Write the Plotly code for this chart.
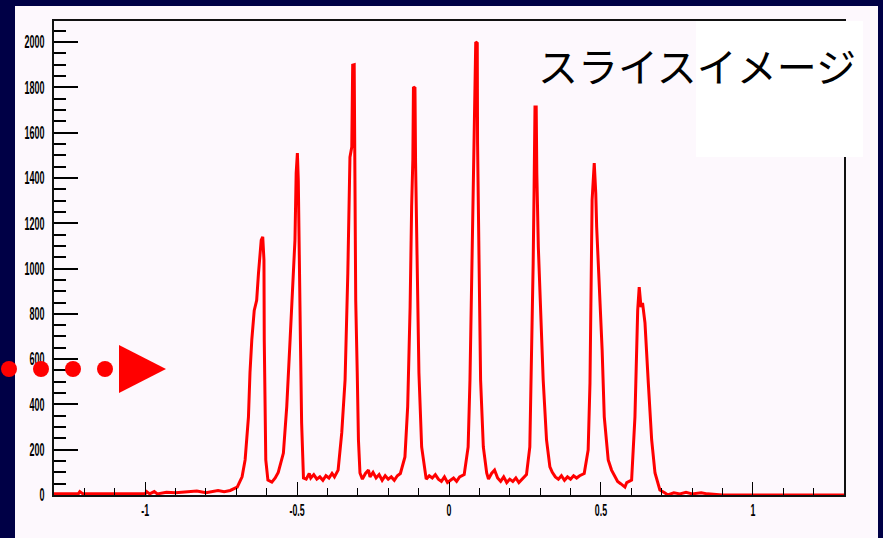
import plotly.graph_objects as go

# ---- data ----
x_vals = [
    -1.30, -1.22, -1.215, -1.205, -1.00, -0.995, -0.985, -0.97, -0.96, -0.93, -0.90, -0.87, -0.83, -0.80,
    -0.76, -0.74, -0.72,
    -0.697, -0.681, -0.671, -0.660, -0.655, -0.649, -0.641, -0.633, -0.627, -0.618, -0.613, -0.609, -0.608,
    -0.605, -0.603, -0.596, -0.583, -0.572, -0.562, -0.545, -0.534, -0.523, -0.512, -0.507, -0.503, -0.499,
    -0.496, -0.493, -0.489, -0.485, -0.479,
    -0.47, -0.46, -0.455, -0.445, -0.435, -0.425, -0.415, -0.405, -0.395, -0.385, -0.377,
    -0.365, -0.353, -0.342, -0.333, -0.326, -0.320, -0.317, -0.312, -0.310, -0.307, -0.302, -0.298, -0.293,
    -0.285, -0.275, -0.265, -0.26, -0.25, -0.24, -0.23, -0.22, -0.21, -0.20, -0.19, -0.18, -0.17, -0.16,
    -0.145, -0.136, -0.128, -0.123, -0.119, -0.117, -0.112, -0.110, -0.104, -0.099, -0.090, -0.081,
    -0.075, -0.065, -0.055, -0.045, -0.035, -0.025, -0.015, -0.005, 0.005, 0.015, 0.025, 0.035, 0.05,
    0.063, 0.069, 0.075, 0.080, 0.083, 0.088, 0.093, 0.094, 0.099, 0.104, 0.113, 0.124,
    0.13, 0.14, 0.15, 0.16, 0.17, 0.18, 0.19, 0.20, 0.21, 0.22, 0.23, 0.24, 0.255,
    0.266, 0.272, 0.277, 0.280, 0.283, 0.287, 0.289, 0.294, 0.303, 0.310, 0.321, 0.332,
    0.34, 0.35, 0.36, 0.37, 0.38, 0.39, 0.40, 0.41, 0.42, 0.43, 0.445,
    0.458, 0.464, 0.467, 0.471, 0.478, 0.483, 0.486, 0.491, 0.497, 0.504, 0.511, 0.524, 0.535, 0.546,
    0.555, 0.565, 0.579, 0.585, 0.601,
    0.612, 0.617, 0.621, 0.626, 0.632, 0.637, 0.645, 0.656, 0.667, 0.678, 0.694, 0.711,
    0.72, 0.74, 0.76, 0.78, 0.80, 0.83, 0.85, 0.90, 1.30,
]
counts = [
    5, 5, 15, 5, 5, 15, 5, 15, 5, 12, 10, 12, 18, 10,
    20, 15, 20,
    35, 80, 155, 345, 540, 685, 815, 860, 980, 1125, 1140, 1037, 685,
    390, 155, 66, 57, 75, 100, 185, 390, 685, 980, 1125, 1420, 1510,
    1390, 1007, 685, 318, 75,
    70, 95, 75, 90, 70, 80, 65, 85, 75, 95, 80,
    110, 274, 508, 980, 1492, 1536, 1898, 1900, 1523, 860, 540, 243, 97,
    70, 95, 110, 80, 100, 75, 90, 65, 85, 70, 80, 65, 85, 95,
    168, 390, 830, 1272, 1480, 1801, 1797, 1466, 980, 540, 212, 110,
    70, 85, 75, 90, 70, 60, 80, 55, 65, 75, 60, 80, 90,
    212, 508, 1024, 1360, 1598, 2000, 1995, 1554, 1024, 508, 212, 97,
    70, 95, 110, 75, 60, 80, 55, 70, 60, 75, 55, 70, 90,
    212, 583, 1024, 1347, 1713, 1713, 1422, 1095, 803, 508, 243, 124,
    100, 80, 70, 85, 65, 80, 70, 85, 75, 85, 95,
    199, 494, 786, 1302, 1466, 1333, 1183, 1037, 860, 640, 345, 155, 110, 80,
    60, 50, 35, 55, 66,
    345, 640, 815, 918, 830, 848, 760, 494, 243, 97, 22, 9,
    0, 10, 5, 12, 5, 10, 5, 0, 0,
]
x_tick_vals = [-1, -0.5, 0, 0.5, 1]
x_tick_text = ["-1", "-0.5", "0", "0.5", "1"]
title_text = "スライスイメージ"

# ---- geometry helpers (pixel -> paper) ----
W, H = 883, 538
L, R, T, B = 54, 844, 21, 495
def px(x):
    return (x - L) / (R - L)
def py(y):
    return (B - y) / (B - T)

NAVY = "#000046"
PANEL = "#fdf8fd"
RED = "#ff0000"
FAM = "Liberation Sans, Arial, Helvetica, sans-serif"
y_tick_font = dict(family=FAM, size=18, color="black", weight="bold")
x_tick_font = dict(family=FAM, size=16, color="black", weight="bold")

fig = go.Figure()
fig.add_trace(go.Scatter(x=x_vals, y=counts, mode="lines",
                         line=dict(color=RED, width=3), hoverinfo="skip", showlegend=False))

shapes = []
# light panel
shapes.append(dict(type="rect", xref="paper", yref="paper", x0=px(15), x1=px(878), y0=py(538), y1=py(6),
                   fillcolor=PANEL, line=dict(width=0), layer="below"))
# white box behind title
shapes.append(dict(type="rect", xref="paper", yref="paper", x0=px(696), x1=px(863), y0=py(157), y1=py(21),
                   fillcolor="white", line=dict(width=0), layer="above"))
# red dots
for cx in [9, 41, 73, 105]:
    r = 8
    shapes.append(dict(type="circle", xref="paper", yref="paper",
                       x0=px(cx - r), x1=px(cx + r), y0=py(369 + r), y1=py(369 - r),
                       fillcolor=RED, line=dict(width=0), layer="above"))
# red triangle
shapes.append(dict(type="path", xref="paper", yref="paper",
                   path=f"M {px(119)},{py(345)} L {px(119)},{py(393)} L {px(166)},{py(369)} Z",
                   fillcolor=RED, line=dict(width=0), layer="above"))

fig.update_layout(
    width=W, height=H,
    margin=dict(l=L, r=W - R, t=T, b=H - B, pad=0, autoexpand=False),
    paper_bgcolor=NAVY,
    plot_bgcolor=PANEL,
    shapes=shapes,
    showlegend=False,
    annotations=[dict(text=title_text, xref="paper", yref="paper", x=px(697), y=py(65),
                      xanchor="center", yanchor="middle", showarrow=False,
                      font=dict(family="Noto Sans CJK JP", size=40, color="black"))],
    xaxis=dict(range=[-1.3, 1.3], showgrid=False, zeroline=False, automargin=False,
               showline=True, linecolor="#111", linewidth=2, mirror=True,
               tickmode="array", tickvals=x_tick_vals, ticktext=x_tick_text,
               ticks="inside", ticklen=13, tickwidth=1, tickcolor="black",
               minor=dict(dtick=0.1, tick0=0, ticks="inside", ticklen=7, tickwidth=1, tickcolor="black"),
               tickfont=x_tick_font, ticklabelstandoff=0),
    yaxis=dict(range=[0, 2093], showgrid=False, zeroline=False, automargin=False,
               showline=True, linecolor="#111", linewidth=2, mirror=True,
               dtick=200, tick0=0,
               ticks="inside", ticklen=24, tickwidth=1.5, tickcolor="black",
               minor=dict(dtick=50, tick0=0, ticks="inside", ticklen=12, tickwidth=1.5, tickcolor="black"),
               tickfont=y_tick_font, ticklabelstandoff=4),
)

# condense the tick labels horizontally (the reference uses a narrow face)
post = """
var gd = document.getElementById('{plot_id}');
function squish(sel, f){
  gd.querySelectorAll(sel).forEach(function(t){
    var w = t.getComputedTextLength();
    if (w > 0) {
      t.setAttribute('textLength', (w * f).toFixed(2));
      t.setAttribute('lengthAdjust', 'spacingAndGlyphs');
    }
  });
}
squish('.ytick text', 0.5);
squish('.xtick text', 0.55);
"""

fig.write_html("out.html", config={"displayModeBar": False}, post_script=post)
